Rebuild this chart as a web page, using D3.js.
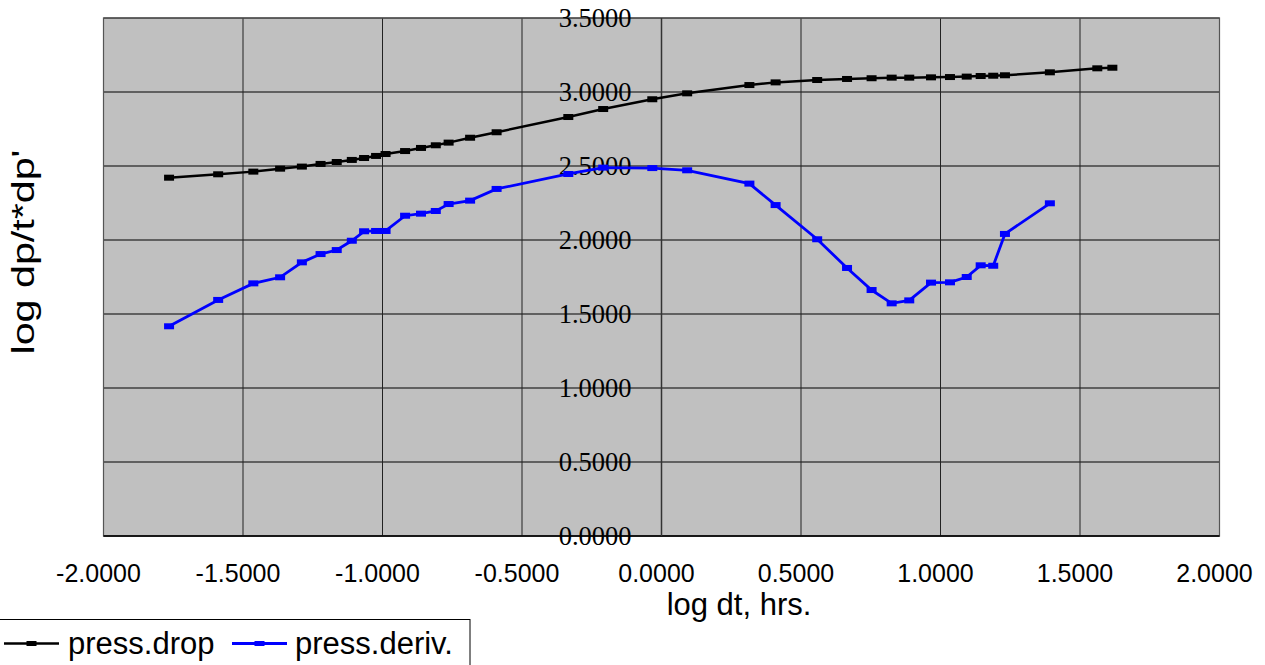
<!DOCTYPE html>
<html>
<head>
<meta charset="utf-8">
<script src="https://cdn.jsdelivr.net/npm/d3@7"></script>
<style>
  html, body { margin: 0; padding: 0; background: #ffffff; }
  svg { display: block; }
</style>
</head>
<body>
<svg id="chart" width="1265" height="665"></svg>
<script>
// ---- data ----
const dropX = [-1.765, -1.589, -1.463, -1.367, -1.289, -1.222, -1.164, -1.110, -1.066, -1.023, -0.989,
  -0.919, -0.862, -0.809, -0.763, -0.686, -0.591, -0.334, -0.209, -0.033, 0.092, 0.315, 0.409,
  0.558, 0.665, 0.753, 0.825, 0.888, 0.966, 1.034, 1.094, 1.144, 1.189, 1.231, 1.392, 1.562, 1.616];
const dropY = [2.421, 2.444, 2.462, 2.482, 2.496, 2.514, 2.527, 2.541, 2.554, 2.568, 2.581,
  2.601, 2.622, 2.640, 2.658, 2.691, 2.728, 2.831, 2.885, 2.951, 2.991, 3.047, 3.065,
  3.081, 3.088, 3.093, 3.097, 3.097, 3.099, 3.101, 3.104, 3.108, 3.110, 3.113, 3.133, 3.160, 3.164];
const derivX = [-1.765, -1.589, -1.463, -1.367, -1.289, -1.222, -1.164, -1.110, -1.066, -1.023, -0.989,
  -0.919, -0.862, -0.809, -0.763, -0.686, -0.591, -0.334, -0.209, -0.033, 0.092, 0.315, 0.409,
  0.558, 0.665, 0.753, 0.825, 0.888, 0.966, 1.034, 1.094, 1.144, 1.189, 1.231, 1.392];
const derivY = [1.417, 1.595, 1.707, 1.748, 1.849, 1.905, 1.932, 1.995, 2.059, 2.061, 2.061,
  2.164, 2.178, 2.196, 2.243, 2.266, 2.345, 2.446, 2.489, 2.486, 2.471, 2.381, 2.236,
  2.005, 1.811, 1.662, 1.572, 1.592, 1.712, 1.714, 1.750, 1.829, 1.826, 2.041, 2.248];
const xTicks = [-2.0, -1.5, -1.0, -0.5, 0.0, 0.5, 1.0, 1.5, 2.0];
const yTicks = [0.0, 0.5, 1.0, 1.5, 2.0, 2.5, 3.0, 3.5];
const seriesNames = ["press.drop", "press.deriv."];
const seriesColors = ["#000000", "#0000ff"];
const xTitle = "log dt, hrs.";
const yTitle = "log dp/t*dp'";

// ---- layout ----
const pLeft = 103.5, pRight = 1219.5, pTop = 18, pBottom = 536;
const svg = d3.select("#chart");
const x = d3.scaleLinear().domain([-2, 2]).range([pLeft, pRight]);
const y = d3.scaleLinear().domain([0, 3.5]).range([pBottom, pTop]);
const fmt = v => d3.format(".4f")(v).replace("\u2212", "-");

// plot background
svg.append("rect").attr("x", pLeft).attr("y", pTop)
  .attr("width", pRight - pLeft).attr("height", pBottom - pTop)
  .attr("fill", "#c0c0c0");

// gridlines
svg.append("g").selectAll("line").data(yTicks).join("line")
  .attr("x1", pLeft).attr("x2", pRight)
  .attr("y1", d => y(d)).attr("y2", d => y(d))
  .attr("stroke", "#000").attr("stroke-width", 1);
svg.append("g").selectAll("line").data(xTicks).join("line")
  .attr("x1", d => x(d)).attr("x2", d => x(d))
  .attr("y1", pTop).attr("y2", pBottom)
  .attr("stroke", "#222").attr("stroke-width", 1);

// plot border
svg.append("rect").attr("x", pLeft).attr("y", pTop)
  .attr("width", pRight - pLeft).attr("height", pBottom - pTop)
  .attr("fill", "none").attr("stroke", "#555").attr("stroke-width", 1.2);
svg.append("line").attr("x1", pLeft).attr("x2", pRight).attr("y1", pBottom).attr("y2", pBottom)
  .attr("stroke", "#000").attr("stroke-width", 1.5);

// y axis at x = 0 (labels left of it)
svg.append("line").attr("x1", x(0)).attr("x2", x(0)).attr("y1", pTop).attr("y2", pBottom)
  .attr("stroke", "#333").attr("stroke-width", 1.5);
svg.append("g").selectAll("text").data(yTicks).join("text")
  .attr("x", x(0) - 30).attr("y", d => y(d) + 9)
  .attr("text-anchor", "end")
  .attr("font-family", "'Liberation Serif', 'Times New Roman', serif")
  .attr("font-size", 26.5).attr("fill", "#000")
  .text(d => fmt(d));

// x tick labels
svg.append("g").selectAll("text").data(xTicks).join("text")
  .attr("x", d => x(d) - 5).attr("y", 582)
  .attr("text-anchor", "middle")
  .attr("font-family", "'Liberation Sans', Arial, sans-serif")
  .attr("font-size", 25).attr("fill", "#000")
  .text(d => fmt(d));

// axis titles
svg.append("text").attr("x", 739).attr("y", 615)
  .attr("text-anchor", "middle")
  .attr("font-family", "'Liberation Sans', Arial, sans-serif")
  .attr("font-size", 31).attr("fill", "#000")
  .text(xTitle);
svg.append("text")
  .attr("transform", "translate(34,252) rotate(-90)")
  .attr("text-anchor", "middle")
  .attr("font-family", "'Liberation Sans', Arial, sans-serif")
  .attr("font-size", 31).attr("fill", "#000")
  .attr("textLength", 205).attr("lengthAdjust", "spacingAndGlyphs")
  .text(yTitle);

// series
const series = [
  { name: seriesNames[0], color: seriesColors[0], xs: dropX, ys: dropY, w: 2.5 },
  { name: seriesNames[1], color: seriesColors[1], xs: derivX, ys: derivY, w: 2.8 }
];
const line = d3.line().x(d => x(d[0])).y(d => y(d[1]));
series.forEach(s => {
  const pts = s.xs.map((v, i) => [v, s.ys[i]]);
  svg.append("path").datum(pts)
    .attr("d", line).attr("fill", "none")
    .attr("stroke", s.color).attr("stroke-width", s.w);
  svg.append("g").selectAll("rect").data(pts).join("rect")
    .attr("x", d => x(d[0]) - 5).attr("y", d => y(d[1]) - 3)
    .attr("width", 10).attr("height", 6)
    .attr("fill", s.color);
});

// legend
svg.append("rect").attr("x", -1).attr("y", 619.5).attr("width", 471).attr("height", 60)
  .attr("fill", "#fff").attr("stroke", "#000").attr("stroke-width", 1);
const legendItems = [
  { x0: 4, x1: 59, tx: 68 },
  { x0: 232, x1: 287, tx: 295 }
];
series.forEach((s, i) => {
  const it = legendItems[i];
  svg.append("line").attr("x1", it.x0).attr("x2", it.x1).attr("y1", 643.5).attr("y2", 643.5)
    .attr("stroke", s.color).attr("stroke-width", s.w);
  svg.append("rect").attr("x", (it.x0 + it.x1) / 2 - 5).attr("y", 641)
    .attr("width", 10).attr("height", 5).attr("fill", s.color);
  svg.append("text").attr("x", it.tx).attr("y", 654)
    .attr("font-family", "'Liberation Sans', Arial, sans-serif")
    .attr("font-size", 31).attr("fill", "#000")
    .text(s.name);
});
</script>
</body>
</html>
